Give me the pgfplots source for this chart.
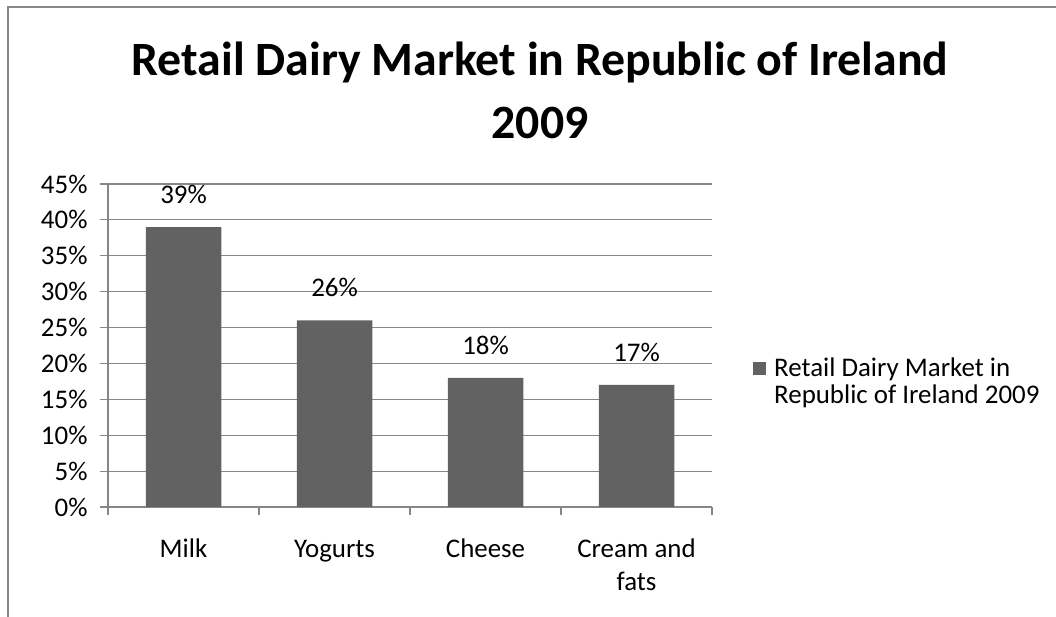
\documentclass[border=0pt]{standalone}
\usepackage{pgfplots}
\pgfplotsset{compat=1.18}
\usepackage{fontspec}
\setmainfont{Carlito}
\definecolor{barc}{HTML}{626262}
\definecolor{gridc}{HTML}{868686}
\definecolor{framec}{HTML}{878787}
\begin{document}
\begin{tikzpicture}[x=1bp,y=1bp]
\useasboundingbox (0,0) rectangle (1056,617);
\draw[framec, line width=2bp] (8,0) -- (8,610) -- (1056,610);
\node[font=\fontsize{48}{60}\selectfont\bfseries, anchor=base] at (540,541) {Retail Dairy Market in Republic of Ireland};
\node[font=\fontsize{48}{60}\selectfont\bfseries, anchor=base] at (540,478) {2009};
\begin{axis}[
  at={(108bp,110bp)}, anchor=south west,
  scale only axis, width=604bp, height=323bp,
  xmin=-0.5, xmax=3.5, ymin=0, ymax=45,
  axis x line*=bottom, axis y line*=left,
  axis line style={gridc, line width=1.2bp},
  ytick={0,5,...,45},
  yticklabel={\pgfmathprintnumber{\tick}\%},
  ymajorgrids, major grid style={gridc, line width=1.2bp},
  xtick={0,1,2,3},
  xticklabels={Milk,Yogurts,Cheese,{Cream and\\fats}},
  minor xtick={-0.5,0.5,1.5,2.5,3.5},
  tick align=outside,
  major tick length=8bp, minor tick length=8bp,
  x tick style={draw=none}, minor x tick style={draw=gridc, line width=1.2bp},
  y tick style={gridc, line width=1.2bp},
  tick label style={font=\fontsize{27}{33}\selectfont},
  typeset ticklabels with strut,
  xticklabel style={align=center, anchor=north, inner sep=0pt, yshift=-19bp},
  yticklabel style={xshift=-9bp},
  /pgf/number format/assume math mode=true,
  nodes near coords={\pgfmathprintnumber{\pgfplotspointmeta}\%},
  nodes near coords style={font=\fontsize{27}{28}\selectfont, anchor=south, inner sep=0pt, yshift=23bp},
  legend style={at={(1,0.5)}, anchor=west, xshift=41bp, yshift=-22bp, draw=none, fill=none,
    font=\fontsize{27}{27}\selectfont, legend cell align=left, inner sep=0pt},
  legend image code/.code={\fill[barc] (0bp,-8bp) rectangle (13bp,5bp);},
]
\addplot[ybar, bar width=75.5bp, fill=barc, draw=none] coordinates {(0,39) (1,26) (2,18) (3,17)};
\addlegendentry{\begin{tabular}[t]{@{\hspace{6bp}}l@{}}Retail Dairy Market in\\Republic of Ireland 2009\end{tabular}}
\end{axis}
\end{tikzpicture}
\end{document}
